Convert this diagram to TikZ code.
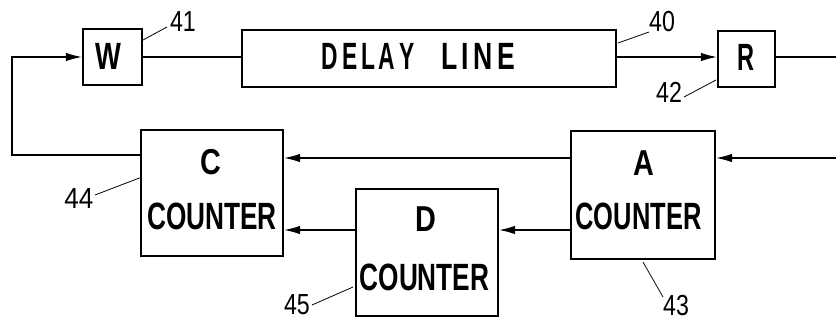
\documentclass[tikz,border=0pt]{standalone}
\usepackage{fontspec}
\setmainfont{Liberation Sans}
\usetikzlibrary{arrows.meta,calc}
\newcommand\bigtxt[2]{\scalebox{#2}[1]{\fontsize{38}{38}\selectfont\bfseries #1}}
\newcommand\midtxt[2]{\scalebox{#2}[1]{\fontsize{36}{36}\selectfont\bfseries #1}}
\begin{document}
\begin{tikzpicture}[x=1pt,y=-1pt,
  blk/.style={draw, line width=2.2pt, inner sep=0pt},
  txt/.style={inner sep=0pt},
  conn/.style={line width=1.3pt},
  arr/.style={conn, -{Latex[length=16pt,width=8.5pt]}},
  lead/.style={line width=0.8pt},
  num/.style={inner sep=0pt, font=\fontsize{29}{29}\selectfont}]
\useasboundingbox (0,0) rectangle (836,322);
% blocks
\node[blk, minimum width=59pt, minimum height=56pt] (W) at (112.5,57) {};
\node[blk, minimum width=374pt, minimum height=57pt] (DL) at (429,58.5) {};
\node[blk, minimum width=57pt, minimum height=56pt] (R) at (746.5,59) {};
\node[blk, minimum width=142pt, minimum height=126pt] (C) at (212,193) {};
\node[blk, minimum width=144pt, minimum height=128pt] (A) at (643,195) {};
\node[blk, minimum width=142pt, minimum height=127pt] (D) at (427,252.5) {};
% texts
\node[txt] (tW) at (108,56.5) {\bigtxt{W}{0.72}};
\node[txt] (tDelay) at (368,56.5) {\bigtxt{D\,E\,L\,A\,Y}{0.6}};
\node[txt] (tLine) at (478,56.5) {\bigtxt{L\,I\,N\,E}{0.7}};
\node[txt] (tR) at (746,57.5) {\bigtxt{R}{0.62}};
\node[txt] (tC) at (211,162.5) {\midtxt{C}{0.8}};
\node[txt] (tCc) at (212,216) {\bigtxt{COUNTER}{0.69}};
\node[txt] (tA) at (644,163) {\midtxt{A}{0.8}};
\node[txt] (tAc) at (638.5,216) {\bigtxt{COUNTER}{0.67}};
\node[txt] (tD) at (426,219) {\midtxt{D}{0.8}};
\node[txt] (tDc) at (424.5,277) {\bigtxt{COUNTER}{0.69}};
% coordinates
\coordinate (yTop) at (0,57);
\coordinate (yU) at (0,158);
\coordinate (yL) at (0,230);
\coordinate (lt) at (12,57);
\coordinate (lb) at (12,155);
\coordinate (outR) at (836,57);
\coordinate (inA) at (836,158);
% connectors
\draw[conn] (W.east |- yTop) -- (DL.west |- yTop);
\draw[arr] (DL.east |- yTop) -- (R.west |- yTop);
\draw[conn] (R.east |- yTop) -- (outR);
\draw[arr] (C.west |- lb) -- (lb) -- (lt) -- (W.west |- lt);
\draw[arr] (inA) -- (A.east |- yU);
\draw[arr] (A.west |- yU) -- (C.east |- yU);
\draw[arr] (A.west |- yL) -- (D.east |- yL);
\draw[arr] (D.west |- yL) -- (C.east |- yL);
% reference numerals
\node[num] (n41) at (183,22) {\scalebox{0.8}[1]{41}};
\node[num] (n40) at (662,22) {\scalebox{0.8}[1]{40}};
\node[num] (n42) at (669,92) {\scalebox{0.8}[1]{42}};
\node[num] (n44) at (79,199) {\scalebox{0.9}[1]{44}};
\node[num] (n45) at (297,305) {\scalebox{0.8}[1]{45}};
\node[num] (n43) at (676,306) {\scalebox{0.8}[1]{43}};
\coordinate (l41a) at (143,40); \coordinate (l41b) at (167,27);
\coordinate (l40a) at (618,43); \coordinate (l40b) at (649,32);
\coordinate (l42a) at (716,80); \coordinate (l42b) at (684,97);
\coordinate (l44a) at (142,177); \coordinate (l44b) at (95,195);
\coordinate (l45a) at (353,287); \coordinate (l45b) at (312,305);
\coordinate (l43a) at (643,262); \coordinate (l43b) at (663,297);
\draw[lead] (l41a) -- (l41b);
\draw[lead] (l40a) -- (l40b);
\draw[lead] (l42a) -- (l42b);
\draw[lead] (l44a) -- (l44b);
\draw[lead] (l45a) -- (l45b);
\draw[lead] (l43a) -- (l43b);
\end{tikzpicture}
\end{document}
